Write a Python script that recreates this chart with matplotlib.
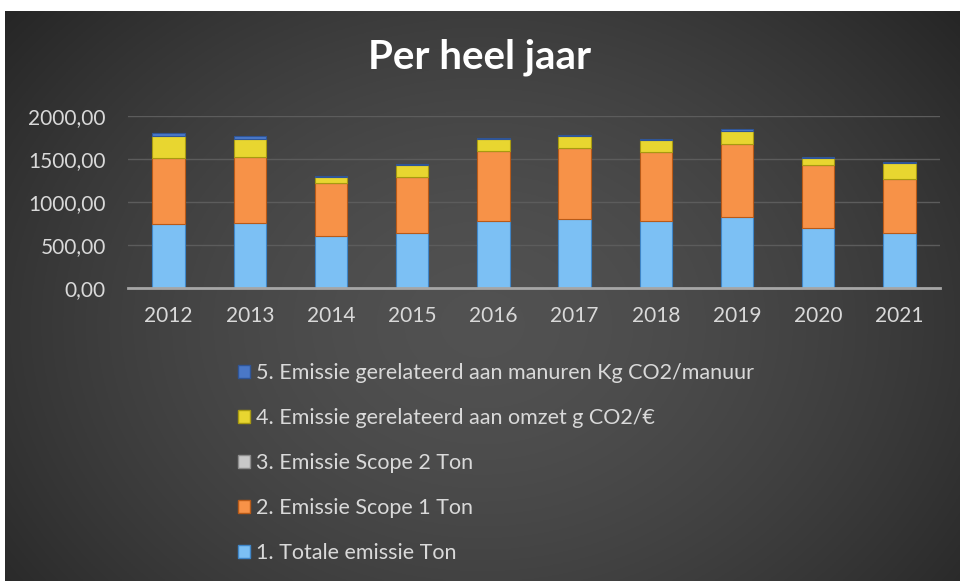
import matplotlib
matplotlib.use("Agg")
import matplotlib.pyplot as plt
import numpy as np
from matplotlib.ticker import FuncFormatter
from matplotlib.patches import Patch

years = ["2012", "2013", "2014", "2015", "2016", "2017", "2018", "2019", "2020", "2021"]
totale = [742, 754, 599, 638, 784, 808, 784, 831, 692, 638]
scope1 = [766, 766, 619, 657, 809, 823, 794, 839, 735, 633]
scope2 = [0, 0, 0, 0, 0, 0, 0, 0, 0, 0]
omzet = [262, 215, 70, 135, 135, 136, 142, 158, 81, 179]
manuur = [35, 32, 15, 16, 16, 15, 15, 16, 12, 15]

labels = ["1. Totale emissie Ton",
          "2. Emissie Scope 1 Ton",
          "3. Emissie Scope 2 Ton",
          "4. Emissie gerelateerd aan omzet g CO2/€",
          "5. Emissie gerelateerd aan manuren Kg CO2/manuur"]
colors = ["#7cc0f4", "#f79248", "#c8c8c8", "#e8d630", "#4a78c8"]
edges = ["#3f86c8", "#b85a18", "#8c8c8c", "#a89a10", "#2f5597"]

plt.rcParams["font.family"] = ["Lato", "DejaVu Sans"]
TXT = "#d9d9d9"

fig = plt.figure(figsize=(9.6, 5.81), dpi=100, facecolor="white")

# dark radial background
bg = fig.add_axes([5 / 960, 0, 955 / 960, 1 - 11 / 581])
yy, xx = np.mgrid[0:1:300j, 0:1:500j]
r = np.sqrt(((xx - 0.5) * 1.2) ** 2 + ((yy - 0.55) * 0.9) ** 2)
shade = 0.32 - 0.18 * np.clip(r / 0.8, 0, 1) ** 1.6
bg.imshow(np.dstack([shade] * 3), aspect="auto", extent=[0, 1, 0, 1])
bg.set_axis_off()

ax = fig.add_axes([128 / 960, 1 - 288 / 581, 812 / 960, 172 / 581])
ax.set_facecolor("none")

series = [totale, scope1, scope2, omzet, manuur]
x = np.arange(len(years))
bottom = np.zeros(len(years))
for vals, c, e, lab in zip(series, colors, edges, labels):
    ax.bar(x, vals, width=0.4, bottom=bottom, color=c, edgecolor=e,
           linewidth=0.8, label=lab, zorder=3)
    bottom += np.array(vals)

ax.set_xlim(-0.5, len(years) - 0.5)
ax.set_ylim(0, 2000)
ax.set_yticks([0, 500, 1000, 1500, 2000])
ax.yaxis.set_major_formatter(FuncFormatter(lambda v, p: f"{v:.2f}".replace(".", ",")))
ax.set_xticks(x)
ax.set_xticklabels(years)
ax.tick_params(axis="both", length=0, colors=TXT, labelsize=15)
ax.tick_params(axis="x", pad=13)
ax.tick_params(axis="y", pad=16)
ax.grid(axis="y", color="#5c5c5c", linewidth=1, zorder=0)
for s in ["top", "right", "left"]:
    ax.spines[s].set_visible(False)
ax.spines["bottom"].set_color("#a6a6a6")
ax.spines["bottom"].set_linewidth(2)
ax.spines["bottom"].set_zorder(4)

fig.text(0.5, 1 - 57 / 581, "Per heel jaar", ha="center", va="center",
         color="white", fontsize=29, fontweight="bold")

handles = [Patch(facecolor=c, edgecolor=e) for c, e in zip(colors, edges)]
leg = fig.legend(handles[::-1], labels[::-1], loc="upper left",
                 bbox_to_anchor=(227 / 960, 1 - 352 / 581), frameon=False,
                 fontsize=15.5, labelcolor=TXT, handlelength=0.55, handleheight=0.55,
                 handletextpad=0.3, labelspacing=1.16, borderpad=0)

fig.savefig("out.png", dpi=100, facecolor=fig.get_facecolor())
